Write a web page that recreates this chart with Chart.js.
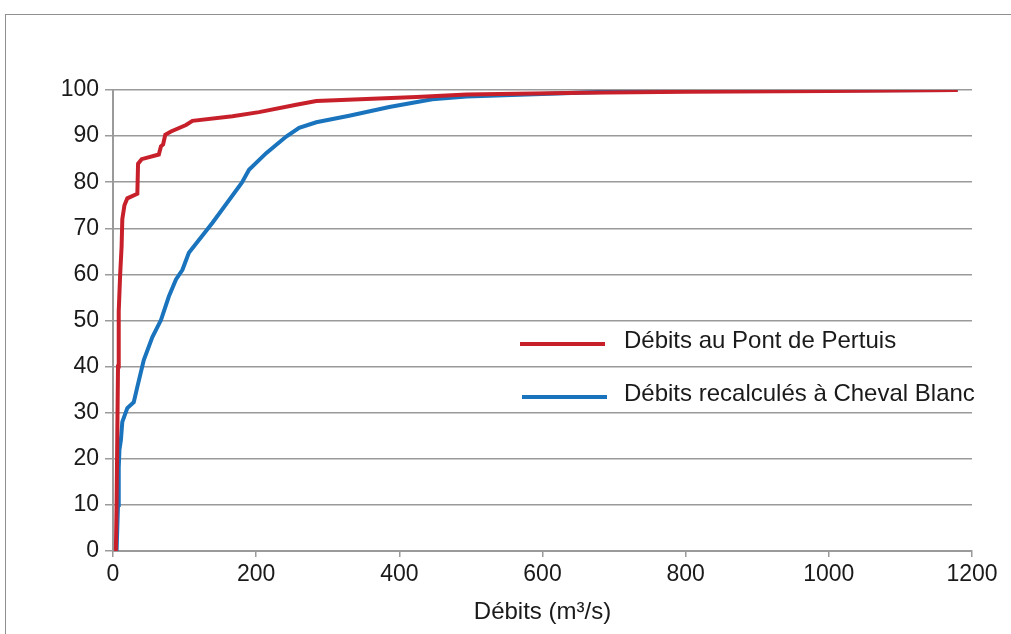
<!DOCTYPE html>
<html>
<head>
<meta charset="utf-8">
<script src="https://cdn.jsdelivr.net/npm/chart.js@4"></script>
<style>
  html, body { margin:0; padding:0; background:#fff; overflow:hidden; }
  #wrap { position:relative; width:1011px; height:634px; }
  #frame { position:absolute; left:5px; top:14px; width:1100px; height:700px; border:1px solid #8f8f8f; box-sizing:border-box; }
  canvas { position:absolute; left:0; top:0; }
</style>
</head>
<body>
<div id="wrap">
  <div id="frame"></div>
  <canvas id="c" width="1011" height="634"></canvas>
</div>
<script>
// Series names
const seriesNames = ['Débits au Pont de Pertuis', 'Débits recalculés à Cheval Blanc'];
const axisTitleX = 'Débits (m³/s)';

// Red series: Pont de Pertuis (flow m3/s, cumulative %)
const redX = [4, 5, 6, 7, 8, 10, 12, 13, 16, 20, 34, 35, 40, 64, 67, 70, 73, 81, 102, 111, 167, 204, 256, 284, 424, 494, 656, 800, 1000, 1180];
const redY = [0, 10, 25, 40, 52, 60, 66, 72, 75, 76.5, 77.5, 84, 85, 86, 87.8, 88.2, 90.3, 91, 92.4, 93.3, 94.3, 95.2, 96.8, 97.6, 98.5, 99, 99.4, 99.6, 99.8, 100];

// Blue series: Cheval Blanc
const blueX = [5, 7, 8, 9, 11, 13, 20, 29, 34, 43, 55, 67, 78, 88, 97, 106, 139, 180, 190, 214, 242, 260, 284, 330, 386, 446, 494, 610, 703, 900, 1180];
const blueY = [0, 10, 18, 22, 24, 28, 31, 32.3, 35.6, 41.4, 46.4, 50.1, 55.2, 58.9, 61, 64.7, 71.2, 79.9, 82.7, 86.3, 89.9, 91.8, 93, 94.4, 96.3, 98, 98.6, 99.2, 99.7, 99.9, 100];

// Axis ticks
const xTicks = [0, 200, 400, 600, 800, 1000, 1200];
const yTicks = [0, 10, 20, 30, 40, 50, 60, 70, 80, 90, 100];

const RED = '#C8202B';
const BLUE = '#1A74BD';
const GRID = '#9a9a9a';
const FONT = "'Liberation Sans', Arial, sans-serif";

const toPts = (xs, ys) => xs.map((x, i) => ({x: x, y: ys[i]}));

const legendPlugin = {
  id: 'customLegend',
  afterDraw(chart) {
    const ctx = chart.ctx;
    const items = [
      {color: RED, x1: 520, x2: 605, y: 344, ty: 341, text: seriesNames[0]},
      {color: BLUE, x1: 522, x2: 607, y: 397, ty: 394, text: seriesNames[1]}
    ];
    ctx.save();
    items.forEach(it => {
      ctx.strokeStyle = it.color;
      ctx.lineWidth = 4;
      ctx.lineCap = 'butt';
      ctx.beginPath();
      ctx.moveTo(it.x1, it.y);
      ctx.lineTo(it.x2, it.y);
      ctx.stroke();
      ctx.fillStyle = '#1a1a1a';
      ctx.font = '24px ' + FONT;
      ctx.textBaseline = 'middle';
      ctx.textAlign = 'left';
      ctx.fillText(it.text, 624, it.ty);
    });
    ctx.restore();
  }
};

new Chart(document.getElementById('c'), {
  type: 'line',
  data: {
    datasets: [
      { label: seriesNames[0], data: toPts(redX, redY), borderColor: RED, borderWidth: 4, pointRadius: 0, tension: 0, fill: false },
      { label: seriesNames[1], data: toPts(blueX, blueY), borderColor: BLUE, borderWidth: 4, pointRadius: 0, tension: 0, fill: false }
    ]
  },
  options: {
    responsive: false,
    animation: false,
    devicePixelRatio: 1,
    layout: { padding: { left: 0, right: 39, top: 90, bottom: 0 } },
    plugins: { legend: { display: false }, tooltip: { enabled: false } },
    scales: {
      x: {
        type: 'linear',
        min: 0, max: 1200,
        afterFit: s => { s.height = 83; },
        afterBuildTicks: s => { s.ticks = xTicks.map(v => ({value: v})); },
        grid: { drawOnChartArea: false, drawTicks: true, tickLength: 6, color: GRID, lineWidth: 1.5 },
        border: { display: true, color: GRID, width: 2 },
        ticks: { font: { family: FONT, size: 23 }, color: '#1a1a1a', padding: 4, maxRotation: 0, callback: v => String(v) },
        title: { display: true, text: axisTitleX, font: { family: FONT, size: 24 }, color: '#1a1a1a', padding: { top: 0, bottom: 7 } }
      },
      y: {
        type: 'linear',
        min: 0, max: 100,
        afterFit: s => { s.width = 113; },
        afterBuildTicks: s => { s.ticks = yTicks.map(v => ({value: v})); },
        grid: { drawOnChartArea: true, drawTicks: true, tickLength: 8, color: GRID, lineWidth: 1.5 },
        border: { display: true, color: GRID, width: 2 },
        ticks: { font: { family: FONT, size: 23 }, color: '#1a1a1a', padding: 6, callback: v => String(v) }
      }
    }
  },
  plugins: [legendPlugin]
});
</script>
</body>
</html>
